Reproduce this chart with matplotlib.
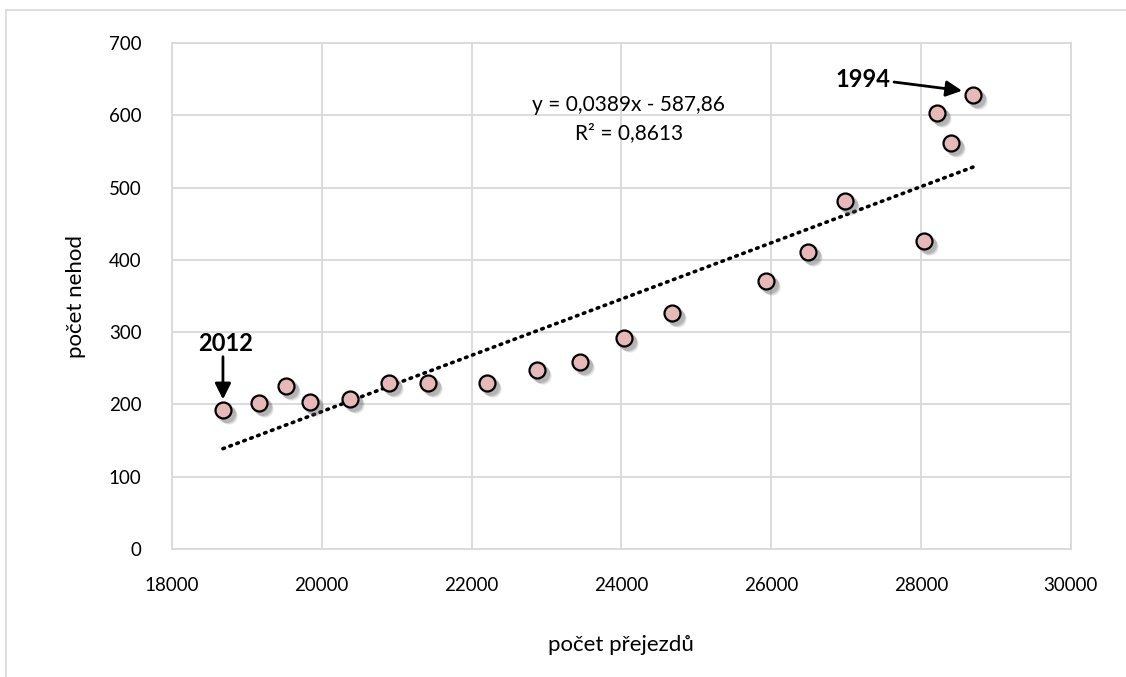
import matplotlib.pyplot as plt
from matplotlib.transforms import offset_copy
from matplotlib.lines import Line2D

# pocet prejezdu vs pocet nehod
prejezdy = [18681, 19161, 19522, 19842, 20376, 20897, 21418, 22205, 22873, 23447,
            24034, 24675, 25930, 26491, 26985, 28040, 28213, 28400, 28694]
nehody = [192, 202, 225, 203, 207, 230, 230, 230, 248, 259,
          292, 326, 371, 411, 481, 426, 603, 562, 628]

slope = 0.0389
intercept = -587.86
r2_text = "R² = 0,8613"
eq_text = "y = 0,0389x - 587,86"

xticks = [18000, 20000, 22000, 24000, 26000, 28000, 30000]
yticks = [0, 100, 200, 300, 400, 500, 600, 700]

plt.rcParams['font.family'] = ['Lato', 'DejaVu Sans']

fig = plt.figure(figsize=(11.26, 6.77), dpi=100)
ax = fig.add_axes([0.1527, 0.189, 0.951 - 0.1527, 0.9365 - 0.189])

# outer chart border
fig.add_artist(Line2D([6 / 1126, 6 / 1126], [0, 1 - 10 / 677], color='#D9D9D9', lw=1.2))
fig.add_artist(Line2D([6 / 1126, 1], [1 - 10 / 677, 1 - 10 / 677], color='#D9D9D9', lw=1.2))

ax.set_xlim(18000, 30000)
ax.set_ylim(0, 700)
ax.set_xticks(xticks)
ax.set_yticks(yticks)
ax.tick_params(length=0, labelsize=13.5)
ax.tick_params(axis='x', pad=20)
ax.tick_params(axis='y', pad=22)
ax.grid(True, color='#D9D9D9', lw=1.3)
ax.set_axisbelow(True)
for s in ax.spines.values():
    s.set_color('#D9D9D9')
    s.set_linewidth(1.3)

# trendline
xs = [min(prejezdy), max(prejezdy)]
ys = [slope * v + intercept for v in xs]
ax.plot(xs, ys, color='black', lw=2.6, linestyle=(0, (0.45, 1.6)),
        dash_capstyle='round', zorder=2)

# shadow under markers
for k, a in [(6, 0.08), (5, 0.12), (4, 0.15), (3, 0.18)]:
    tr = offset_copy(ax.transData, fig=fig, x=k, y=-k, units='dots')
    ax.plot(prejezdy, nehody, 'o', ms=12 + (6 - k) * 0.5, color='#555555',
            alpha=a, mec='none', transform=tr, zorder=3)
ax.plot(prejezdy, nehody, 'o', ms=11.5, mfc='#E6B9B8', mec='black',
        mew=1.6, zorder=4)

ax.text(24100, 614, eq_text, ha='center', va='center', fontsize=15)
ax.text(24100, 576, r2_text, ha='center', va='center', fontsize=15)

ax.text(18720, 285, '2012', ha='center', va='center', fontsize=17, fontweight='bold')
ax.annotate('', xy=(18681, 207), xytext=(18681, 266),
            arrowprops=dict(arrowstyle='-|>', color='black', lw=2,
                            mutation_scale=24, shrinkA=0, shrinkB=0))
ax.text(27230, 649, '1994', ha='center', va='center', fontsize=17, fontweight='bold')
ax.annotate('', xy=(28548, 634), xytext=(27640, 646),
            arrowprops=dict(arrowstyle='-|>', color='black', lw=2,
                            mutation_scale=24, shrinkA=0, shrinkB=0))

ax.set_ylabel('počet nehod', fontsize=16, labelpad=16)
ax.set_xlabel('počet přejezdů', fontsize=16, labelpad=30)

plt.savefig('out.png', dpi=100)
